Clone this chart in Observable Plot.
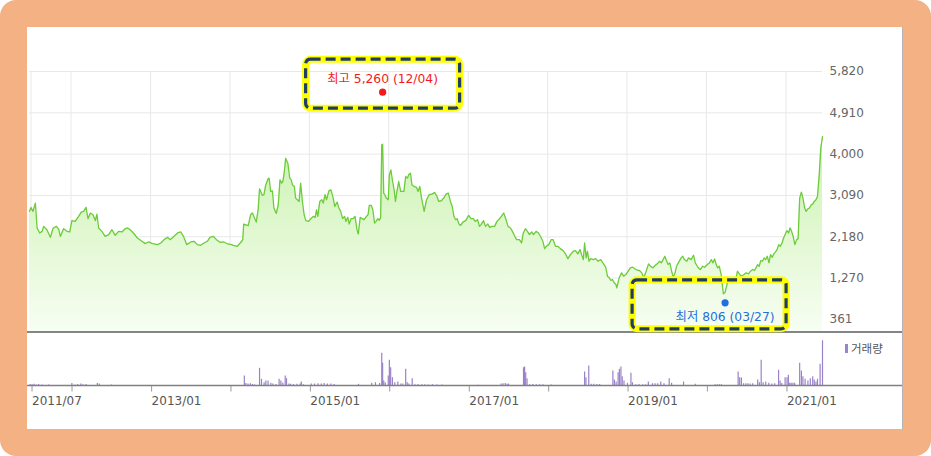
<!DOCTYPE html>
<html><head><meta charset="utf-8">
<script src="https://cdn.jsdelivr.net/npm/d3@7"></script>
<script src="https://cdn.jsdelivr.net/npm/@observablehq/plot@0.6"></script>
<style>
html,body{margin:0;padding:0;background:#fff;}
#frame{position:relative;width:931px;height:456px;background:#f4b183;border-radius:16px;overflow:hidden;}
#panel{position:absolute;left:27px;top:27px;width:875px;height:402px;background:#fff;border-right:1px solid #b4b4b4;}
#sep{height:1.5px;background:#858585;}
#legend{position:absolute;left:818px;top:314px;height:14px;display:flex;align-items:center;font:11.5px 'DejaVu Sans','Noto Sans CJK KR',sans-serif;color:#555;}
#legend i{display:inline-block;width:3px;height:9px;background:#9b84cc;margin-right:3px;}
svg{display:block;overflow:visible;}
</style></head>
<body>
<div id="frame"><div id="panel"><div id="price"></div><div id="sep"></div><div id="vol"></div><div id="legend"><i></i><span>거래량</span></div></div></div>
<script>
// ---------- data ----------
const priceDates = [
"2011-06-24","2011-07-01","2011-07-10","2011-07-21","2011-07-29","2011-08-10","2011-08-21","2011-08-28","2011-09-12","2011-09-28","2011-10-11","2011-10-26","2011-11-06","2011-11-13","2011-11-28","2011-12-14","2011-12-26",
"2012-01-05","2012-01-20","2012-02-05","2012-02-17","2012-02-28","2012-03-10","2012-03-19","2012-03-30","2012-04-11","2012-04-22","2012-04-29","2012-05-07","2012-05-22","2012-06-06","2012-06-22","2012-07-07","2012-07-22","2012-08-07","2012-08-22","2012-09-06","2012-09-17","2012-09-29","2012-10-14","2012-11-01","2012-11-22","2012-12-07","2012-12-22",
"2013-01-10","2013-02-02","2013-02-17","2013-03-04","2013-03-20","2013-04-01","2013-04-19","2013-05-05","2013-05-20","2013-06-01","2013-06-16","2013-07-05","2013-07-20","2013-08-04","2013-08-19","2013-09-04","2013-09-19","2013-10-01","2013-10-16","2013-10-31","2013-11-16","2013-12-04","2013-12-22",
"2014-01-08","2014-01-16","2014-02-04","2014-02-24","2014-03-01","2014-03-05","2014-03-26","2014-04-06","2014-04-14","2014-05-02","2014-05-11","2014-05-17","2014-05-30","2014-06-06","2014-06-14","2014-06-25","2014-06-30","2014-07-07","2014-07-15","2014-07-22","2014-08-02","2014-08-11","2014-08-19","2014-08-27","2014-09-02","2014-09-08","2014-09-14","2014-09-24","2014-10-03","2014-10-10","2014-10-15","2014-10-24","2014-10-30","2014-11-07","2014-11-15","2014-11-22","2014-11-30","2014-12-08","2014-12-16","2014-12-29",
"2015-01-08","2015-01-19","2015-01-28","2015-02-03","2015-02-09","2015-02-18","2015-02-27","2015-03-06","2015-03-14","2015-03-21","2015-04-01","2015-04-10","2015-04-19","2015-04-28","2015-05-09","2015-05-16","2015-05-25","2015-06-03","2015-06-12","2015-06-18","2015-06-27","2015-07-03","2015-07-12","2015-07-22","2015-07-30","2015-08-08","2015-08-14","2015-08-23","2015-09-01","2015-09-10","2015-09-21","2015-09-28","2015-10-04","2015-10-13","2015-10-20","2015-10-28","2015-11-04","2015-11-12","2015-11-18","2015-11-25","2015-11-30","2015-12-04","2015-12-09","2015-12-14","2015-12-21","2015-12-30",
"2016-01-04","2016-01-11","2016-01-19","2016-01-26","2016-02-01","2016-02-08","2016-02-16","2016-02-25","2016-03-11","2016-03-19","2016-03-27","2016-04-02","2016-04-10","2016-04-17","2016-04-26","2016-05-08","2016-05-15","2016-05-23","2016-05-31","2016-06-12","2016-06-23","2016-07-05","2016-07-18","2016-07-30","2016-08-10","2016-08-18","2016-08-30","2016-09-10","2016-09-21","2016-10-01","2016-10-11","2016-10-19","2016-10-27","2016-11-04","2016-11-11","2016-11-19","2016-11-27","2016-12-07","2016-12-20",
"2017-01-03","2017-01-13","2017-01-24","2017-02-02","2017-02-13","2017-02-21","2017-03-01","2017-03-12","2017-03-21","2017-04-01","2017-04-09","2017-04-20","2017-05-02","2017-05-13","2017-05-25","2017-06-02","2017-06-13","2017-06-22","2017-07-03","2017-07-14","2017-07-23","2017-08-03","2017-08-11","2017-08-24","2017-09-03","2017-09-11","2017-09-21","2017-09-30","2017-10-09","2017-10-20","2017-10-28","2017-11-09","2017-11-20","2017-12-01","2017-12-10","2017-12-18","2017-12-26",
"2018-01-06","2018-01-17","2018-01-26","2018-02-06","2018-02-17","2018-02-28","2018-03-13","2018-03-24","2018-04-04","2018-04-16","2018-04-29","2018-05-09","2018-05-20","2018-05-30","2018-06-06","2018-06-14","2018-06-20","2018-06-27","2018-07-03","2018-07-10","2018-07-18","2018-07-30","2018-08-10","2018-08-21","2018-09-02","2018-09-15","2018-09-25","2018-10-03","2018-10-11","2018-10-19","2018-10-26","2018-11-03","2018-11-11","2018-11-15","2018-11-26","2018-12-07","2018-12-16","2018-12-27",
"2019-01-16","2019-01-27","2019-02-11","2019-02-27","2019-03-10","2019-03-19","2019-03-30","2019-04-10","2019-04-19","2019-04-30","2019-05-11","2019-05-20","2019-05-31","2019-06-08","2019-06-16","2019-06-24","2019-07-01","2019-07-09","2019-07-17","2019-07-25","2019-08-02","2019-08-10","2019-08-17","2019-08-25","2019-09-07","2019-09-14","2019-09-22","2019-10-03","2019-10-11","2019-10-23","2019-11-03","2019-11-11","2019-11-23","2019-12-04","2019-12-15","2019-12-24",
"2020-01-05","2020-01-15","2020-01-24","2020-01-31","2020-02-08","2020-02-15","2020-02-22","2020-02-29","2020-03-09","2020-03-19","2020-03-26","2020-04-03","2020-04-11","2020-04-18","2020-04-26","2020-05-03","2020-05-14","2020-05-23","2020-06-02","2020-06-10","2020-06-22","2020-07-02","2020-07-13","2020-07-22","2020-08-01","2020-08-09","2020-08-16","2020-08-24","2020-08-31","2020-09-07","2020-09-15","2020-09-22","2020-09-30","2020-10-07","2020-10-15","2020-10-22","2020-10-30","2020-11-06","2020-11-14","2020-11-21","2020-11-29","2020-12-06","2020-12-14","2020-12-21","2020-12-28",
"2021-01-05","2021-01-13","2021-01-20","2021-01-27","2021-02-04","2021-02-11","2021-02-19","2021-02-26","2021-03-05","2021-03-13","2021-03-20","2021-03-28","2021-04-04","2021-04-12","2021-04-19","2021-04-27","2021-05-04","2021-05-11","2021-05-19","2021-05-26","2021-06-03","2021-06-10","2021-06-18"
];
const priceValues = [
2739,2826,2739,2922,2373,2263,2299,2409,2336,2168,2373,2409,2336,2190,2358,2299,2285,
2534,2519,2629,2724,2739,2826,2577,2702,2665,2534,2680,2373,2299,2190,2226,2336,2212,2299,2285,2358,2373,2336,2263,2153,2080,2029,2065,
2029,2007,2043,2116,2168,2116,2190,2263,2285,2190,2007,2065,2080,2007,1992,2043,2080,2168,2190,2116,2058,2065,2021,
2007,1992,1970,2080,2116,2460,2424,2665,2702,2504,2797,3236,3090,3105,3310,3456,3471,3178,3192,2812,2695,2885,3434,3361,3412,3617,3910,3800,3471,3434,3324,3288,3031,2995,2958,3361,2958,2665,2534,2519,
2578,2629,2607,2775,2629,2958,2995,2922,3105,2995,3192,3214,3068,2848,2944,2826,2739,2578,2629,2519,2607,2460,2578,2578,2629,2336,2241,2607,2578,2556,2629,2665,2870,2870,2775,2482,2519,2578,2540,2600,4203,4220,3141,3105,3031,2995,
3544,3654,3397,3214,2958,3178,3397,3178,3178,3507,3471,3544,3580,3324,3288,3266,3178,3288,3031,2739,2995,3105,3119,3156,3068,2958,2973,3031,3119,3141,2958,2848,2629,2556,2578,2460,2431,2504,2534,
2651,2578,2578,2519,2556,2409,2446,2534,2409,2460,2387,2409,2409,2519,2578,2629,2702,2578,2409,2373,2299,2190,2116,2116,2043,2263,2358,2299,2226,2285,2226,2299,2263,2168,2080,1919,1970,
2007,2116,2116,1970,1970,1919,1875,1802,1699,1787,1860,1875,1802,1897,1787,1677,2043,1714,1860,1641,1699,1677,1699,1641,1677,1582,1509,1311,1275,1216,1238,1165,1128,1055,1275,1384,1311,1348,
1494,1509,1458,1436,1384,1275,1421,1582,1531,1494,1553,1582,1641,1604,1677,1750,1655,1567,1604,1421,1289,1384,1531,1604,1714,1750,1677,1641,1714,1677,1772,1604,1509,1458,1531,1509,
1567,1604,1677,1604,1692,1567,1494,1531,1348,923,945,1092,1238,1201,1165,1201,1216,1421,1348,1311,1348,1384,1362,1421,1458,1436,1494,1567,1531,1655,1641,1714,1677,1750,1604,1787,1728,1802,1846,1897,2007,1970,2043,2153,2226,
2314,2263,2373,2299,2168,2007,2116,2139,3031,3163,3031,2812,2739,2797,2812,2885,2900,2958,2995,3068,3544,4129,4386
];

const volDates = [
"2011-06-27","2011-07-06","2011-07-15","2011-07-25","2011-08-05","2011-08-20","2011-09-20","2012-01-05","2012-01-19","2012-02-01","2012-02-15","2012-02-25","2012-03-10","2012-05-01","2012-05-10","2012-07-05","2012-09-20","2013-06-10",
"2014-03-08","2014-03-15","2014-03-25","2014-04-05","2014-04-15","2014-04-25","2014-05-17","2014-05-26","2014-06-07","2014-06-15","2014-06-25","2014-07-08","2014-07-17","2014-07-31","2014-08-15","2014-08-23","2014-09-01","2014-09-12","2014-09-18","2014-09-29","2014-10-07","2014-10-20","2014-11-05","2014-11-20","2014-11-25","2014-12-05",
"2015-01-10","2015-01-25","2015-02-10","2015-02-25","2015-03-10","2015-03-25","2015-04-10","2015-04-25","2015-08-15","2015-10-15","2015-11-01","2015-11-20","2015-11-30","2015-12-04","2015-12-09","2015-12-16","2015-12-30",
"2016-01-04","2016-01-10","2016-01-18","2016-01-29","2016-02-12","2016-02-26","2016-03-06","2016-03-19","2016-03-26","2016-04-03","2016-04-18","2016-05-01","2016-05-15","2016-06-01","2016-06-15","2016-07-01","2016-07-20","2016-08-10","2016-09-01",
"2017-02-15","2017-06-01","2017-06-10","2017-06-20","2017-06-28","2017-07-05","2017-09-12","2017-09-17","2017-09-22","2017-09-28","2017-10-10","2017-10-25","2017-11-10","2017-11-25","2017-12-10",
"2018-01-18","2018-06-20","2018-06-26","2018-07-09","2018-07-20","2018-08-01","2018-08-15","2018-08-28","2018-10-28","2018-11-04","2018-11-12","2018-11-21","2018-11-27","2018-12-04","2018-12-10","2018-12-18",
"2019-01-03","2019-01-19","2019-01-26","2019-02-10","2019-02-25","2019-03-15","2019-03-28","2019-04-09","2019-04-28","2019-05-10","2019-05-22","2019-06-05","2019-06-20","2019-07-14","2019-07-25","2019-09-18","2019-11-11",
"2020-02-10","2020-02-20","2020-03-01","2020-03-10","2020-05-26","2020-06-02","2020-06-10","2020-06-20","2020-07-01","2020-07-10","2020-07-20","2020-08-01","2020-08-24","2020-09-01","2020-09-09","2020-09-18","2020-09-30","2020-10-14","2020-10-28","2020-11-10","2020-11-28","2020-12-05","2020-12-13","2020-12-28",
"2021-01-06","2021-01-12","2021-01-18","2021-01-25","2021-02-02","2021-02-10","2021-03-05","2021-03-13","2021-03-20","2021-03-30","2021-04-12","2021-04-23","2021-05-04","2021-05-11","2021-05-19","2021-05-26","2021-06-07","2021-06-18"
];
const volValues = [
150,120,180,100,150,100,100,250,100,150,200,120,150,250,200,100,50,40,
1000,250,200,230,150,100,1770,670,330,500,500,270,200,150,670,500,300,1000,730,200,170,150,170,200,400,130,
200,200,230,200,250,200,200,150,170,270,330,250,3270,2270,500,330,1000,
2570,1830,830,330,400,200,200,1670,330,200,730,130,150,130,130,100,130,100,100,
70,200,230,250,170,200,1830,1900,1330,730,130,150,130,130,130,
100,1400,830,2000,170,170,150,150,1500,600,400,1330,1670,1900,930,500,
270,1270,330,130,150,130,130,400,230,230,230,400,230,730,270,400,170,
130,130,130,130,1400,830,800,230,230,230,200,230,600,330,2570,330,400,270,200,230,1570,500,250,830,
830,1070,270,270,270,270,2270,1500,930,670,500,730,930,600,400,670,2170,4530
];

const xDomainDates = ["2011-06-24","2021-06-18"];
const xTickDates = ["2011-07-01","2012-01-01","2013-01-01","2014-01-01","2015-01-01","2016-01-01","2017-01-01","2018-01-01","2019-01-01","2020-01-01","2021-01-01"];
const xTickLabels = ["2011/07","","2013/01","","2015/01","","2017/01","","2019/01","","2021/01"];
const yTicks = [361,1270,2180,3090,4000,4910,5820];
const yDomain = [93,5820];
const volDomain = [0,5250];

const extremeLabels = ["최고","최저"];
const extremeValues = [5260,806];
const extremeDates = ["2015-12-04","2020-03-27"];
const extremeColors = ["#f21a1a","#1f6fde"];

// ---------- build ----------
const parse = d3.utcParse("%Y-%m-%d");
const price = priceDates.map((d,i)=>({date:parse(d), value:priceValues[i]}));
const vol = volDates.map((d,i)=>({date:parse(d), value:volValues[i]}));
const xDomain = xDomainDates.map(parse);
const xTicks = xTickDates.map(parse);
const labelMap = new Map(xTicks.map((d,i)=>[+d, xTickLabels[i]]));
const extremes = extremeLabels.map((l,i)=>({
  label:l, value:extremeValues[i], date:parse(extremeDates[i]), color:extremeColors[i],
  text:`${l} ${d3.format(",")(extremeValues[i])} (${d3.utcFormat("%m/%d")(parse(extremeDates[i]))})`
}));
const FONT = "'DejaVu Sans','Noto Sans CJK KR',sans-serif";
const W = 875;

// style offsets (pixels) for each annotation: dot dy, text dy, box extents
const dotDy = [-4.7, 3.7];
const textDy = [-17.4, 18.1];
const boxes = [{l:-80,r:81,t:-36,b:20},{l:-96,r:65,t:-26,b:30}];

const extremeMarks = extremes.flatMap((e,i)=>[
  Plot.dot([e], {x:"date", y:"value", r:3.6, fill:e.color, stroke:"none", dy:dotDy[i]}),
  Plot.text([e], {x:"date", y:"value", text:"text", fill:e.color, dy:textDy[i], fontSize:12.3})
]);

const priceChart = Plot.plot({
  width: W, height: 304,
  marginLeft: 2, marginRight: 80, marginTop: 44, marginBottom: 0,
  style: {fontFamily: FONT, fontSize: "12px", background: "transparent", overflow: "visible"},
  x: {type: "utc", domain: xDomain, axis: null},
  y: {domain: yDomain, axis: null, label: null},
  marks: [
    Plot.gridX(xTicks, {stroke: "#e8e8e8", strokeOpacity: 1}),
    Plot.gridY(yTicks, {stroke: "#e8e8e8", strokeOpacity: 1}),
    Plot.areaY(price, {x: "date", y: "value", fill: "url(#priceFill)", clip: true}),
    Plot.lineY(price, {x: "date", y: "value", stroke: "#6ccc3a", strokeWidth: 1.3}),
    Plot.axisY(yTicks, {anchor: "right", label: null, tickSize: 0, tickPadding: 7, tickFormat: d3.format(","), fill: "#666", fontSize: 12}),
    ...extremeMarks
  ]
});

// gradient fill for the area
const psvg = d3.select(priceChart);
const grad = psvg.insert("defs", ":first-child").append("linearGradient")
  .attr("id", "priceFill").attr("x1", 0).attr("y1", 0).attr("x2", 0).attr("y2", 1);
grad.append("stop").attr("offset", "0%").attr("stop-color", "#cbf2b0");
grad.append("stop").attr("offset", "100%").attr("stop-color", "#f8fef4");

// highlight boxes around the max / min annotations, placed through the plot's scales
const sx = priceChart.scale("x"), sy = priceChart.scale("y");
const fx = d3.scaleUtc(sx.domain, sx.range), fy = d3.scaleLinear(sy.domain, sy.range);
extremes.forEach((e,i)=>{
  const cx = fx(e.date), cy = fy(e.value) + dotDy[i], b = boxes[i];
  const g = psvg.append("g");
  const x = cx + b.l + 3.5, y = cy + b.t + 3.5, w = (b.r - b.l) - 7, h = (b.b - b.t) - 7;
  g.append("rect").attr("x", x).attr("y", y).attr("width", w).attr("height", h).attr("rx", 5)
    .attr("fill", "none").attr("stroke", "#ffff00").attr("stroke-width", 7);
  g.append("rect").attr("x", x).attr("y", y).attr("width", w).attr("height", h).attr("rx", 5)
    .attr("fill", "none").attr("stroke", "#1f3d66").attr("stroke-width", 3.2).attr("stroke-dasharray", "10,5");
});

document.getElementById("price").appendChild(priceChart);

const volChart = Plot.plot({
  width: W, height: 96,
  marginLeft: 2, marginRight: 80, marginTop: 0, marginBottom: 43.5,
  style: {fontFamily: FONT, fontSize: "12px", background: "transparent", overflow: "visible"},
  x: {type: "utc", domain: xDomain, axis: null, label: null},
  y: {domain: volDomain, axis: null},
  marks: [
    Plot.ruleX(vol, {x: "date", y1: 0, y2: "value", stroke: "#9a82ca", strokeWidth: 1.2}),
    Plot.axisX(xTicks, {anchor: "bottom", label: null, tickSize: 6, tickPadding: 4, stroke: "#9a9a9a", fill: "#555",
      textAnchor: "start", dx: 1, fontSize: 12, tickFormat: d => labelMap.get(+d) ?? ""})
  ]
});
const vy = volChart.scale("y");
const y0 = d3.scaleLinear(vy.domain, vy.range)(0);
d3.select(volChart).append("line").attr("x1", 0).attr("x2", W).attr("y1", y0).attr("y2", y0)
  .attr("stroke", "#808080").attr("stroke-width", 1.4);
document.getElementById("vol").appendChild(volChart);
</script>
</body></html>
